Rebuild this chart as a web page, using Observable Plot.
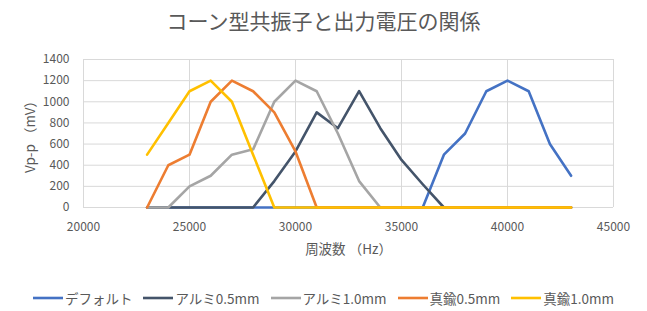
<!DOCTYPE html>
<html>
<head>
<meta charset="utf-8">
<script src="https://cdn.jsdelivr.net/npm/d3@7"></script>
<script src="https://cdn.jsdelivr.net/npm/@observablehq/plot@0.6"></script>
<style>
  html, body { margin: 0; padding: 0; background: #fff; }
  body { width: 647px; height: 311px; overflow: hidden; font-family: "Noto Sans CJK JP", "Noto Sans", sans-serif; color: #595959; }
  #title { height: 45px; line-height: 40px; text-align: center; font-size: 21px; color: #595959; }
  #legend { display: flex; justify-content: center; align-items: center; height: 41px; padding-top: 14px; box-sizing: border-box; font-size: 13.5px; color: #595959; }
  .item { display: flex; align-items: center; margin: 0 5.5px; }
  .item svg { margin-right: 2px; }
</style>
</head>
<body>
<div id="title">コーン型共振子と出力電圧の関係</div>
<div id="chart"></div>
<div id="legend"></div>
<script>
const freqs = [23000, 24000, 25000, 26000, 27000, 28000, 29000, 30000, 31000, 32000, 33000, 34000, 35000, 36000, 37000, 38000, 39000, 40000, 41000, 42000, 43000];
const seriesNames = ["デフォルト", "アルミ0.5mm", "アルミ1.0mm", "真鍮0.5mm", "真鍮1.0mm"];
const seriesColors = ["#4472C4", "#44546A", "#A5A5A5", "#ED7D31", "#FFC000"];
const defaultVals = [0, 0, 0, 0, 0, 0, 0, 0, 0, 0, 0, 0, 0, 0, 500, 700, 1100, 1200, 1100, 600, 300];
const alu05Vals   = [0, 0, 0, 0, 0, 0, 250, 530, 900, 750, 1100, 750, 450, 220, 0, 0, 0, 0, 0, 0, 0];
const alu10Vals   = [0, 0, 200, 300, 500, 550, 1000, 1200, 1100, 700, 250, 0, 0, 0, 0, 0, 0, 0, 0, 0, 0];
const brass05Vals = [0, 400, 500, 1000, 1200, 1100, 900, 530, 0, 0, 0, 0, 0, 0, 0, 0, 0, 0, 0, 0, 0];
const brass10Vals = [500, 800, 1100, 1200, 1000, 500, 0, 0, 0, 0, 0, 0, 0, 0, 0, 0, 0, 0, 0, 0, 0];
const xTicks = [20000, 25000, 30000, 35000, 40000, 45000];
const yTicks = [0, 200, 400, 600, 800, 1000, 1200, 1400];

const allVals = [defaultVals, alu05Vals, alu10Vals, brass05Vals, brass10Vals];
const lines = allVals.map((vals, i) => Plot.line(
  freqs.map((f, j) => ({x: f, y: vals[j]})),
  {x: "x", y: "y", stroke: seriesColors[i], strokeWidth: 2.6, strokeLinejoin: "round", strokeLinecap: "round"}
));

const chart = Plot.plot({
  width: 647,
  height: 225,
  marginLeft: 83,
  marginRight: 34,
  marginTop: 14,
  marginBottom: 63,
  style: {fontFamily: "'Noto Sans CJK JP', 'Noto Sans', sans-serif", fontSize: "12px", color: "#595959", background: "#fff"},
  x: {domain: [20000, 45000]},
  y: {domain: [0, 1400]},
  marks: [
    Plot.gridX(xTicks, {stroke: "#d9d9d9", strokeOpacity: 1, strokeWidth: 1}),
    Plot.gridY(yTicks, {stroke: "#d9d9d9", strokeOpacity: 1, strokeWidth: 1}),
    Plot.axisX(xTicks, {tickSize: 0, tickPadding: 15, tickFormat: d => String(d), label: "周波数 （Hz）", labelAnchor: "center", labelArrow: "none", labelOffset: 46, fontSize: 12}),
    Plot.axisY(yTicks, {tickSize: 0, tickPadding: 14, tickFormat: d => String(d), label: "Vp-p （mV）", labelAnchor: "center", labelArrow: "none", labelOffset: 58, fontSize: 12}),
    ...lines
  ]
});
chart.querySelectorAll("text").forEach(t => t.setAttribute("fill", "#595959"));
chart.querySelectorAll('[aria-label="x-axis label"], [aria-label="y-axis label"]').forEach(g => {
  g.setAttribute("font-size", "13.5");
  g.querySelectorAll("text").forEach(t => {
    t.setAttribute("font-size", "13.5");
    t.textContent = t.textContent.replace(/\s*[→↑←↓]\s*/g, "").trim();
  });
});
document.getElementById("chart").appendChild(chart);

const legend = document.getElementById("legend");
seriesNames.forEach((name, i) => {
  const item = document.createElement("div");
  item.className = "item";
  item.innerHTML = `<svg width="30" height="6"><line x1="0" y1="3" x2="30" y2="3" stroke="${seriesColors[i]}" stroke-width="2.6"/></svg><span>${name}</span>`;
  legend.appendChild(item);
});
</script>
</body>
</html>
